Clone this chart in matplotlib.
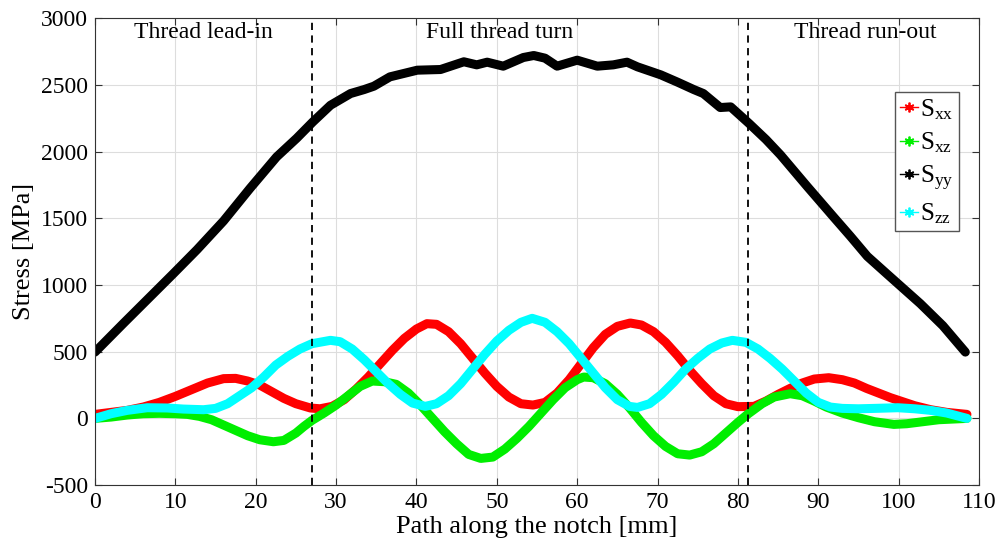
import matplotlib
matplotlib.use("Agg")
import matplotlib.pyplot as plt
from matplotlib.lines import Line2D

plt.rcParams["font.family"] = ["Liberation Serif", "DejaVu Serif"]
plt.rcParams["mathtext.fontset"] = "custom"
plt.rcParams["mathtext.rm"] = "Liberation Serif"
plt.rcParams["mathtext.it"] = "Liberation Serif:italic"
plt.rcParams["axes.unicode_minus"] = False

# Sxx (red)
x_xx = [0, 2, 4, 6, 8, 10, 12, 14, 16, 17.5, 19, 20.5, 22, 23.5, 25, 26.8, 28, 29.5, 31, 32.5, 34, 35.5,
        37, 38.5, 40, 41.3, 42.5, 44, 45.5, 47, 48.5, 50, 51.5, 53, 54.5, 56, 57.5, 59, 60.5, 62, 63.5,
        65, 66.6, 68, 69.5, 71, 72.5, 74, 75.5, 77, 78.5, 80, 82, 83.5, 85, 86.5, 88, 89.5, 91.3, 93,
        94.5, 96, 97.5, 99, 100.5, 102, 104, 106, 108.5]
s_xx = [30, 45, 60, 85, 120, 165, 215, 265, 298, 300, 280, 250, 200, 150, 110, 78, 72, 90, 140, 220, 310, 410,
        510, 600, 670, 710, 705, 650, 560, 450, 340, 240, 160, 110, 100, 120, 190, 290, 410, 530, 630,
        690, 715, 700, 650, 570, 470, 360, 260, 170, 110, 88, 90, 130, 180, 225, 265, 295, 305, 290,
        265, 225, 190, 155, 125, 95, 65, 45, 30]

# Sxz (green)
x_xz = [0, 2, 4, 6, 8, 10, 11.5, 13, 14.5, 16, 17.5, 19, 20.5, 22.2, 23.5, 25, 26, 27, 28.5, 30, 31.5,
        33, 34.5, 36, 37.5, 39, 40.5, 42, 43.5, 45, 46.5, 48, 49.5, 51, 52.5, 54, 55.5, 57, 58.5, 60,
        60.8, 62, 63.5, 65, 66.5, 68, 69.5, 71, 72.5, 74, 75.5, 77, 78.5, 80, 81.3, 83, 84.5, 86.5, 88,
        89.5, 91, 93, 95, 97, 99.4, 101, 103, 105, 108.5]
s_xz = [0, 10, 25, 35, 38, 35, 30, 15, -10, -50, -90, -130, -160, -175, -165, -110, -60, -15, 40, 100, 170,
        240, 280, 275, 255, 190, 100, 0, -100, -190, -270, -300, -290, -230, -150, -60, 40, 140, 230, 290,
        310, 305, 260, 180, 80, -30, -130, -210, -265, -275, -250, -190, -110, -30, 35, 110, 160, 185, 170,
        130, 85, 40, 5, -25, -45, -40, -25, -10, 0]

# Syy (black)
x_yy = [0, 3.5, 6.5, 9.75, 12.7, 16, 19.3, 22.6, 25.1, 27.1, 29.3, 31.8, 33.5, 34.7, 36.7, 40.1, 43, 45.9,
        47.5, 48.8, 50.8, 53.3, 54.6, 56, 57.5, 60, 62.5, 64.5, 66.2, 67.5, 70.4, 72.5, 74.5, 75.7, 77.8,
        79.1, 81.4, 83.5, 85.3, 88.6, 91.9, 94, 96.1, 98.6, 102.7, 105.5, 108.3]
s_yy = [497, 710, 890, 1085, 1265, 1480, 1725, 1960, 2100, 2222, 2347, 2435, 2465, 2490, 2560, 2610, 2615, 2673,
        2650, 2670, 2640, 2705, 2720, 2700, 2640, 2685, 2640, 2650, 2670, 2635, 2575, 2520, 2465, 2435, 2330,
        2335, 2210, 2090, 1975, 1740, 1510, 1365, 1215, 1080, 860, 695, 497]

# Szz (cyan)
x_zz = [0, 2, 4, 6.5, 9, 11, 13.5, 15, 16.5, 18, 19.5, 21, 22.5, 24, 25.5, 27, 29.3, 30.5, 32, 33.5, 35,
        36.5, 38, 39.5, 41.1, 42.5, 44, 45.5, 47, 48.5, 50, 51.5, 53, 54.4, 56, 57.5, 59, 60.5, 62, 63.5,
        65, 66.5, 67.5, 69, 70.5, 72, 73.5, 75, 76.5, 78, 79.3, 81, 82.5, 84, 85.5, 87, 88.5, 90, 91.5,
        93, 95, 97, 99.9, 102, 104, 106, 108.5]
s_zz = [0, 35, 60, 80, 78, 70, 65, 75, 110, 170, 230, 310, 400, 465, 520, 560, 585, 575, 520, 440, 350,
        260, 180, 115, 90, 110, 170, 260, 370, 480, 580, 660, 720, 750, 720, 650, 560, 450, 340, 230,
        140, 90, 82, 110, 180, 270, 370, 450, 520, 565, 585, 570, 520, 450, 370, 280, 190, 120, 85,
        75, 72, 75, 80, 72, 60, 40, 0]

regions = ["Thread lead-in", "Full thread turn", "Thread run-out"]
region_x = [13.5, 50.4, 95.9]
boundaries = [27.0, 81.3]

fig = plt.figure(figsize=(10, 5.5), dpi=100)
ax = fig.add_axes([0.095, 0.118, 0.884, 0.849])

lw = 6.5
for xs, ys, c in [(x_xx, s_xx, "#ff0000"), (x_xz, s_xz, "#00ee00"),
                  (x_yy, s_yy, "black"), (x_zz, s_zz, "#00ffff")]:
    ax.plot(xs, ys, color=c, lw=lw, solid_capstyle="round", solid_joinstyle="round")

for b in boundaries:
    ax.axvline(b, color="black", ls=(0, (4, 3)), lw=1.3)
for name, xr in zip(regions, region_x):
    ax.text(xr, 2890, name, ha="center", va="center", fontsize=17)

ax.set_xlim(0, 110)
ax.set_ylim(-500, 3000)
ax.set_xticks(range(0, 111, 10))
ax.set_yticks(range(-500, 3001, 500))
ax.grid(True, color="#dddddd", lw=0.8)
ax.tick_params(direction="in", top=True, right=True, labelsize=17, length=5, color="#333333", pad=5)
for sp in ax.spines.values():
    sp.set_color("#333333")
ax.set_xlabel("Path along the notch [mm]", fontsize=19, labelpad=2)
ax.set_ylabel("Stress [MPa]", fontsize=19, labelpad=4)

colors = ["#ff0000", "#00ee00", "black", "#00ffff"]
handles = [Line2D([], [], color=c, marker=(6, 2, 0), lw=1, ms=7, mew=1.3) for c in colors]
labels = [r"S$_{\mathrm{xx}}$", r"S$_{\mathrm{xz}}$", r"S$_{\mathrm{yy}}$", r"S$_{\mathrm{zz}}$"]
leg = ax.legend(handles, labels, loc="upper right", bbox_to_anchor=(0.977, 0.842), fontsize=18,
                handlelength=0.7, handletextpad=0.1, borderpad=0.2, labelspacing=0.35,
                fancybox=False, framealpha=1, edgecolor="#555555", borderaxespad=0)
leg.get_frame().set_linewidth(1)

fig.savefig("out.png", dpi=100)
